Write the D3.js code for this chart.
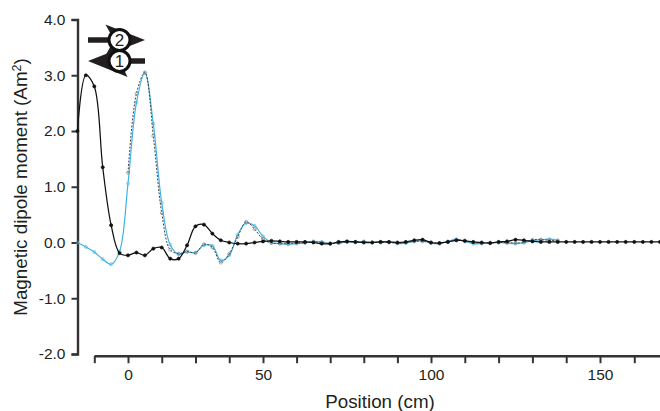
<!DOCTYPE html>
<html>
<head>
<meta charset="utf-8">
<script src="https://cdn.jsdelivr.net/npm/d3@7"></script>
<style>
    html, body { margin: 0; padding: 0; background: #fff; }
    svg { display: block; }
    text { font-family: "Liberation Sans", Arial, sans-serif; fill: #231f20; }
</style>
</head>
<body>
<svg id="chart" width="660" height="411"></svg>
<script>
// positions in cm (sampling gets finer after 50 on the original axis)
var blackPos = [-18.75, -15.625, -12.5, -9.375, -6.25, -3.125, 0, 3.125, 6.25, 9.375, 12.5, 15.625, 18.75, 21.875, 25, 28.125, 31.25, 34.375, 37.5, 40.625, 43.75, 46.875, 50,
    52.5, 55, 57.5, 60, 62.5, 65, 67.5, 70, 72.5, 75, 77.5, 80, 82.5, 85, 87.5, 90, 92.5, 95, 97.5, 100, 102.5, 105, 107.5, 110, 112.5, 115, 117.5, 120, 122.5, 125, 127.5, 130, 132.5, 135, 137.5, 140, 142.5, 145, 147.5, 150, 152.5, 155, 157.5, 160, 162.5, 165, 167.5];
var blackVal = [2.0, 3.0, 2.8, 1.35, 0.31, -0.19, -0.23, -0.18, -0.23, -0.11, -0.09, -0.29, -0.29, -0.05, 0.29, 0.32, 0.16, 0.04, 0, -0.02, -0.02, 0, 0.02,
    0.03, 0.02, 0.01, 0.01, 0.01, 0.0, -0.02, -0.02, 0.01, 0.02, 0.01, 0, 0, 0.01, 0.01, 0, 0.01, 0.04, 0.05, 0, -0.01, 0.01, 0.04, 0.03, 0.01, 0, -0.01, 0.01, 0.02, 0.05, 0.04, 0.02, 0.01, 0.01, 0.01, 0.01, 0.01, 0.01, 0.01, 0.01, 0.01, 0.01, 0.01, 0.01, 0.01, 0.01, 0.01];

var bluePos = blackPos.slice(0, 58);
var blueVal = [0, -0.08, -0.17, -0.30, -0.39, -0.16, 1.06, 2.51, 3.04, 2.13, 0.71, -0.04, -0.21, -0.17, -0.18, -0.05, -0.06, -0.32, -0.23, 0.14, 0.35, 0.30, 0.11,
    0, -0.02, -0.03, -0.02, -0.01, 0.02, 0.01, -0.02, -0.01, 0.01, 0, 0.02, 0, 0.01, 0.01, -0.02, -0.01, 0.02, 0.03, -0.01, -0.02, 0.02, 0.06, 0.02, -0.02, -0.02, -0.01, 0, -0.01, -0.02, 0, 0.03, 0.05, 0.06, 0.04];

var grayPos = blackPos.slice(6, 58);
var grayVal = [1.25, 2.67, 3.05, 1.91, 0.53, -0.13, -0.20, -0.16, -0.19, -0.03, -0.09, -0.36, -0.20, 0.10, 0.37, 0.24, 0.06,
    -0.01, -0.02, -0.02, -0.01, 0, 0.01, 0, -0.02, -0.01, 0.01, 0.01, 0.01, 0, 0, 0, -0.01, 0, 0.02, 0.02, 0, -0.01, 0.01, 0.04, 0.03, 0, -0.01, 0, 0, 0, -0.01, 0, 0.05, 0.05, 0.04, 0.03];

var yTicks = [-2, -1, 0, 1, 2, 3, 4];
var xTicks = [-12.5, 0, 12.5, 25, 37.5, 50, 60, 70, 80, 90, 100, 110, 120, 130, 140, 150, 160];
var xLabels = [0, 50, 100, 150];

var svg = d3.select('#chart');

// the printed axis is not even between 0-50 and 50-100, so the scale is piecewise
var x = d3.scaleLinear()
    .domain([-12.5, 0, 50, 100, 150, 167.5])
    .range([94.3, 128, 263, 431, 600, 660]);
var y = d3.scaleLinear().domain([-2, 4]).range([354, 19.5]);

var yAxis = d3.axisLeft(y).tickValues(yTicks).tickSize(6).tickPadding(6)
    .tickFormat(function (d) {
        return d.toFixed(1);
    });
var xAxis = d3.axisBottom(x).tickValues(xTicks).tickSizeInner(7.5).tickSizeOuter(0).tickPadding(6)
    .tickFormat(function (d) {
        return xLabels.indexOf(d) >= 0 ? d : '';
    });

var gy = svg.append('g').attr('transform', 'translate(77.5,0)').call(yAxis);
var gx = svg.append('g').attr('transform', 'translate(0,355.7)').call(xAxis);

[gy, gx].forEach(function (g) {
    g.selectAll('.domain').attr('stroke', '#333').attr('stroke-width', 2.4).attr('fill', 'none');
    g.selectAll('.tick line').attr('stroke', '#333').attr('stroke-width', 2);
    g.selectAll('text').attr('font-size', 15.5).attr('fill', '#231f20')
        .style('font-family', '"Liberation Sans", Arial, sans-serif');
});

function drawSeries(pos, val, opt) {
    var pts = pos.map(function (p, i) {
        return { x: p, y: val[i] };
    });
    var line = d3.line()
        .x(function (d) { return x(d.x); })
        .y(function (d) { return y(d.y); })
        .curve(d3.curveCatmullRom.alpha(0.5));
    var g = svg.append('g');
    g.append('path')
        .attr('d', line(pts))
        .attr('fill', 'none')
        .attr('stroke', opt.color)
        .attr('stroke-width', opt.width)
        .attr('stroke-dasharray', opt.dash || null);
    g.selectAll('circle').data(pts).enter().append('circle')
        .attr('cx', function (d) { return x(d.x); })
        .attr('cy', function (d) { return y(d.y); })
        .attr('r', opt.r)
        .attr('fill', opt.fill)
        .attr('stroke', opt.markStroke)
        .attr('stroke-width', 0.6);
}

drawSeries(bluePos, blueVal, { color: '#3fb3e3', width: 1.2, r: 1.5, fill: 'none', markStroke: '#3fb3e3' });
drawSeries(grayPos, grayVal, { color: '#444', width: 1, dash: '2,1.5', r: 1.5, fill: 'none', markStroke: '#777' });
drawSeries(blackPos, blackVal, { color: '#111', width: 1.25, r: 1.6, fill: '#111', markStroke: '#111' });

// direction arrows top left
function arrow(tip, backTop, backBottom, notchX, tailFrom, tailTo, cy, cx, label) {
    svg.append('polygon')
        .attr('points', [tip, backTop, [notchX, cy], backBottom].join(' '))
        .attr('fill', '#231f20');
    svg.append('line')
        .attr('x1', tailFrom).attr('x2', tailTo).attr('y1', cy).attr('y2', cy)
        .attr('stroke', '#231f20').attr('stroke-width', 5.5);
    return function () {
        svg.append('circle').attr('cx', cx).attr('cy', cy).attr('r', 10.5)
            .attr('fill', '#fff').attr('stroke', '#111').attr('stroke-width', 3);
        svg.append('text').attr('x', cx).attr('y', cy + 6).attr('text-anchor', 'middle')
            .attr('font-size', 17).text(label);
    };
}
var top2 = arrow([145, 40], [105.5, 24.5], [105.5, 55.5], 114, 88, 110, 40, 119.5, '2');
var top1 = arrow([88, 61], [127.5, 45.5], [127.5, 77], 120, 130, 145, 61, 119.5, '1');
top2();
top1();

// axis titles
svg.append('text')
    .attr('x', 380).attr('y', 408)
    .attr('text-anchor', 'middle')
    .attr('font-size', 18.8)
    .text('Position (cm)');

var yTitle = svg.append('text')
    .attr('transform', 'translate(27,187) rotate(-90)')
    .attr('text-anchor', 'middle')
    .attr('font-size', 18.8)
    .text('Magnetic dipole moment (Am');
yTitle.append('tspan').attr('font-size', 12.5).attr('dy', -6).text('2');
yTitle.append('tspan').attr('dy', 6).text(')');
</script>
</body>
</html>
